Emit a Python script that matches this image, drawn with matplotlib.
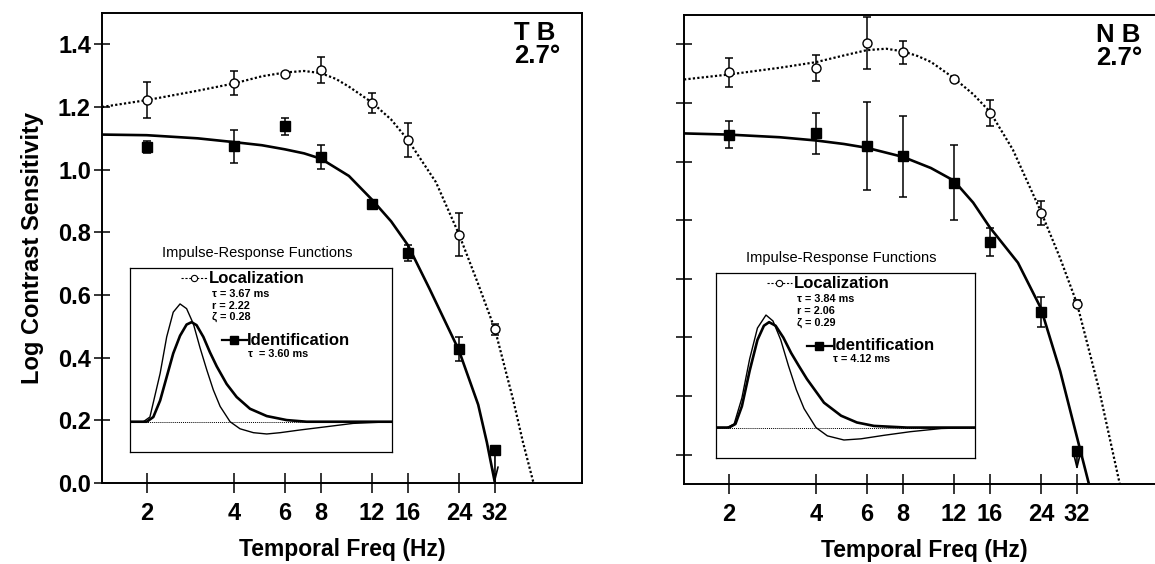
import numpy as np
import matplotlib
matplotlib.use("Agg")
import matplotlib.pyplot as plt
from matplotlib.ticker import FixedLocator, FixedFormatter, NullLocator, NullFormatter, FormatStrFormatter

plt.rcParams['font.family'] = ['Liberation Sans', 'DejaVu Sans']

# temporal frequencies tested (Hz)
freqs = [2, 4, 6, 8, 12, 16, 24, 32]
freq_ticks = [2, 4, 6, 8, 12, 16, 24, 32]

# observer TB: log contrast sensitivity
tb_loc = [1.223, 1.277, 1.304, 1.319, 1.213, 1.094, 0.793, 0.491]
tb_loc_err = [0.058, 0.038, 0.0, 0.041, 0.033, 0.055, 0.070, 0.018]
tb_id = [1.072, 1.075, 1.138, 1.040, 0.890, 0.734, 0.427, 0.105]
tb_id_err = [0.018, 0.053, 0.027, 0.039, 0.010, 0.025, 0.038, 0.0]
tb_arrow_tip = 0.0

# observer NB
nb_loc = [1.305, 1.320, 1.405, 1.373, 1.283, 1.166, 0.825, 0.515]
nb_loc_err = [0.050, 0.045, 0.088, 0.040, 0.0, 0.045, 0.040, 0.012]
nb_id = [1.092, 1.096, 1.052, 1.018, 0.927, 0.726, 0.487, 0.011]
nb_id_err = [0.045, 0.070, 0.150, 0.138, 0.128, 0.048, 0.052, 0.0]
nb_arrow_tip = -0.055

# model fits (frequency, log sensitivity)
tb_loc_fit_f = [1.4, 2, 3, 4, 5, 6, 7, 8, 9, 10, 12, 14, 16, 20, 24, 28, 32, 37, 40, 43.5]
tb_loc_fit = [1.200, 1.222, 1.252, 1.275, 1.298, 1.310, 1.315, 1.308, 1.290, 1.265,
              1.215, 1.160, 1.095, 0.960, 0.795, 0.635, 0.490, 0.265, 0.130, 0.0]
tb_id_fit_f = [1.4, 2, 3, 4, 5, 6, 7, 8, 10, 12, 14, 16, 19, 22, 24, 28, 30, 32]
tb_id_fit = [1.112, 1.110, 1.100, 1.088, 1.078, 1.065, 1.052, 1.035, 0.980, 0.905,
             0.835, 0.759, 0.620, 0.497, 0.424, 0.250, 0.130, 0.0]

nb_loc_fit_f = [1.4, 2, 3, 4, 5, 6, 7, 8, 9, 10, 12, 14, 16, 19.2, 24, 28, 32, 38, 45]
nb_loc_fit = [1.280, 1.297, 1.320, 1.339, 1.362, 1.380, 1.385, 1.376, 1.360, 1.340,
              1.285, 1.230, 1.170, 1.041, 0.830, 0.670, 0.516, 0.230, -0.100]
nb_id_fit_f = [1.4, 2, 3, 4, 5, 6, 8, 10, 12, 14, 16, 20, 24, 28, 32, 35.2]
nb_id_fit = [1.096, 1.092, 1.083, 1.072, 1.060, 1.047, 1.016, 0.978, 0.935, 0.860,
             0.775, 0.655, 0.500, 0.285, 0.060, -0.100]

# impulse responses (time in ms, response normalised)
tb_irf_loc_t = [0, 5.1, 7.6, 11.5, 14.0, 16.5, 19.1, 21.6, 24.2, 26.7, 29.3, 31.8, 34.4,
                38.2, 42.0, 47.1, 52.2, 57.3, 64.9, 75.1, 85.2, 100]
tb_irf_loc = [0, 0, 0.04, 0.41, 0.72, 0.93, 1.0, 0.96, 0.83, 0.63, 0.44, 0.27, 0.13,
              0, -0.06, -0.093, -0.104, -0.093, -0.07, -0.042, -0.014, 0]
tb_irf_id_t = [0, 6.4, 8.9, 11.5, 14.0, 16.5, 19.1, 21.6, 23.5, 25.4, 28.0, 30.5, 33.1,
               36.9, 40.7, 45.8, 52.2, 59.8, 67.4, 100]
tb_irf_id = [0, 0, 0.04, 0.18, 0.38, 0.58, 0.73, 0.825, 0.845, 0.82, 0.72, 0.59, 0.47,
             0.32, 0.21, 0.11, 0.048, 0.014, 0, 0]

nb_irf_loc_t = [0, 4.2, 7, 10, 13, 16, 19.3, 22, 25, 28, 31, 34, 38.6, 43, 49.4, 56, 65, 75, 87, 100]
nb_irf_loc = [0, 0, 0.03, 0.25, 0.58, 0.84, 0.95, 0.90, 0.74, 0.52, 0.32, 0.16, 0,
              -0.07, -0.105, -0.095, -0.065, -0.035, -0.008, 0]
nb_irf_id_t = [0, 5, 7.5, 10, 13, 16, 18.5, 20.5, 23, 26, 29, 32, 35.1, 41.7, 48.3, 54.4, 61, 73.7, 100]
nb_irf_id = [0, 0, 0.03, 0.18, 0.48, 0.74, 0.86, 0.89, 0.86, 0.76, 0.63, 0.52, 0.41,
             0.21, 0.10, 0.043, 0.014, 0, 0]

tb_params = ["\u03c4 = 3.67 ms", "r = 2.22", "\u03b6 = 0.28"]
tb_id_param = "\u03c4  = 3.60 ms"
nb_params = ["\u03c4 = 3.84 ms", "r = 2.06", "\u03b6 = 0.29"]
nb_id_param = "\u03c4 = 4.12 ms"


def errorbars(ax, x, y, err):
    x = np.array(x); y = np.array(y); err = np.array(err)
    keep = err > 0
    ax.errorbar(x[keep], y[keep], yerr=err[keep], fmt='none', ecolor='k',
                elinewidth=1.1, capsize=3.2, capthick=1.1, zorder=3)


def draw_panel(ax, loc, loc_err, idv, id_err, loc_fit_f, loc_fit, id_fit_f, id_fit,
               arrow_tip, ylim, name, show_ylabels):
    ax.set_xscale('log')
    ax.set_xlim(1.4, 64)
    ax.set_ylim(*ylim)

    ax.plot(loc_fit_f, loc_fit, color='k', lw=1.6, linestyle=(0, (1.0, 1.0)), zorder=2)
    ax.plot(id_fit_f, id_fit, color='k', lw=1.9, zorder=2)

    errorbars(ax, freqs, loc, loc_err)
    errorbars(ax, freqs, idv, id_err)
    ax.plot(freqs, loc, 'o', ms=6.5, mfc='white', mec='k', mew=1.0, zorder=4)
    ax.plot(freqs, idv, 's', ms=6.8, mfc='k', mec='k', zorder=4)

    # the 32 Hz identification point is an upper limit
    ax.annotate('', xy=(freqs[-1], arrow_tip), xytext=(freqs[-1], idv[-1]),
                arrowprops=dict(arrowstyle='->,head_length=0.9,head_width=0.22',
                                lw=1.2, color='k', shrinkA=0, shrinkB=0), zorder=3)

    ax.xaxis.set_major_locator(FixedLocator(freq_ticks))
    ax.xaxis.set_major_formatter(FixedFormatter([str(f) for f in freq_ticks]))
    ax.xaxis.set_minor_locator(NullLocator())
    ax.xaxis.set_minor_formatter(NullFormatter())
    ax.set_yticks(np.arange(0, 1.41, 0.2))
    if show_ylabels:
        ax.yaxis.set_major_formatter(FormatStrFormatter('%.1f'))
    else:
        ax.yaxis.set_major_formatter(NullFormatter())

    ax.tick_params(axis='x', direction='inout', length=14, width=1.1, pad=7,
                   labelsize=17)
    ax.tick_params(axis='y', direction='inout', length=12, width=1.1, pad=2,
                   labelsize=17)
    for lab in ax.get_xticklabels() + ax.get_yticklabels():
        lab.set_fontweight('bold')
    for sp in ax.spines.values():
        sp.set_linewidth(1.4)

    ax.set_xlabel('Temporal Freq (Hz)', fontsize=16.5, fontweight='bold', labelpad=9)
    ax.text(0.858, 0.982, name + '\n2.7\u00b0', transform=ax.transAxes, ha='left',
            va='top', fontsize=18.5, fontweight='bold', linespacing=0.92)


def draw_inset(ax, loc_t, loc_r, id_t, id_r, params, id_param):
    ax.set_xlim(0, 100)
    ax.set_ylim(-0.257, 1.305)
    ax.set_xticks([]); ax.set_yticks([])
    for sp in ax.spines.values():
        sp.set_linewidth(0.9)
    ax.axhline(0, color='k', lw=0.7, linestyle=(0, (1, 1)), zorder=1)
    ax.plot(loc_t, loc_r, color='k', lw=1.0, zorder=2)
    ax.plot(id_t, id_r, color='k', lw=1.9, zorder=2)

    ax.text(0.485, 1.08, 'Impulse-Response Functions', transform=ax.transAxes,
            ha='center', va='center', fontsize=10.5)
    # legend entries
    ax.plot([0.195, 0.295], [0.945, 0.945], transform=ax.transAxes, color='k',
            lw=0.8, linestyle=(0, (2, 1.5)), clip_on=False)
    ax.plot([0.245], [0.945], 'o', transform=ax.transAxes, ms=4.5, mfc='white',
            mec='k', mew=0.8, clip_on=False)
    ax.text(0.300, 0.945, 'Localization', transform=ax.transAxes, ha='left',
            va='center', fontsize=12, fontweight='bold')
    for i, p in enumerate(params):
        ax.text(0.313, 0.857 - i * 0.062, p, transform=ax.transAxes, ha='left',
                va='center', fontsize=7.8, fontweight='bold')
    ax.plot([0.352, 0.447], [0.608, 0.608], transform=ax.transAxes, color='k',
            lw=1.6, clip_on=False)
    ax.plot([0.398], [0.608], 's', transform=ax.transAxes, ms=5.5, mfc='k',
            mec='k', clip_on=False)
    ax.text(0.447, 0.608, 'Identification', transform=ax.transAxes, ha='left',
            va='center', fontsize=12, fontweight='bold')
    ax.text(0.452, 0.533, id_param, transform=ax.transAxes, ha='left',
            va='center', fontsize=7.8, fontweight='bold')


fig = plt.figure(figsize=(11.55, 5.64), dpi=100)

ax1 = fig.add_axes([102 / 1155, 81 / 564, 480 / 1155, 470 / 564])
ax2 = fig.add_axes([684 / 1155, 80 / 564, 480 / 1155, 469 / 564])

draw_panel(ax1, tb_loc, tb_loc_err, tb_id, tb_id_err, tb_loc_fit_f, tb_loc_fit,
           tb_id_fit_f, tb_id_fit, tb_arrow_tip, (0, 1.5), 'T B', True)
draw_panel(ax2, nb_loc, nb_loc_err, nb_id, nb_id_err, nb_loc_fit_f, nb_loc_fit,
           nb_id_fit_f, nb_id_fit, nb_arrow_tip, (-0.1, 1.5), 'N B', False)
ax1.set_ylabel('Log Contrast Sensitivity', fontsize=17, fontweight='bold', labelpad=10)

in1 = fig.add_axes([130 / 1155, 112 / 564, 262 / 1155, 184 / 564])
in2 = fig.add_axes([716 / 1155, 106 / 564, 259 / 1155, 185 / 564])
draw_inset(in1, tb_irf_loc_t, tb_irf_loc, tb_irf_id_t, tb_irf_id, tb_params, tb_id_param)
draw_inset(in2, nb_irf_loc_t, nb_irf_loc, nb_irf_id_t, nb_irf_id, nb_params, nb_id_param)

fig.savefig('out.png', dpi=100)
